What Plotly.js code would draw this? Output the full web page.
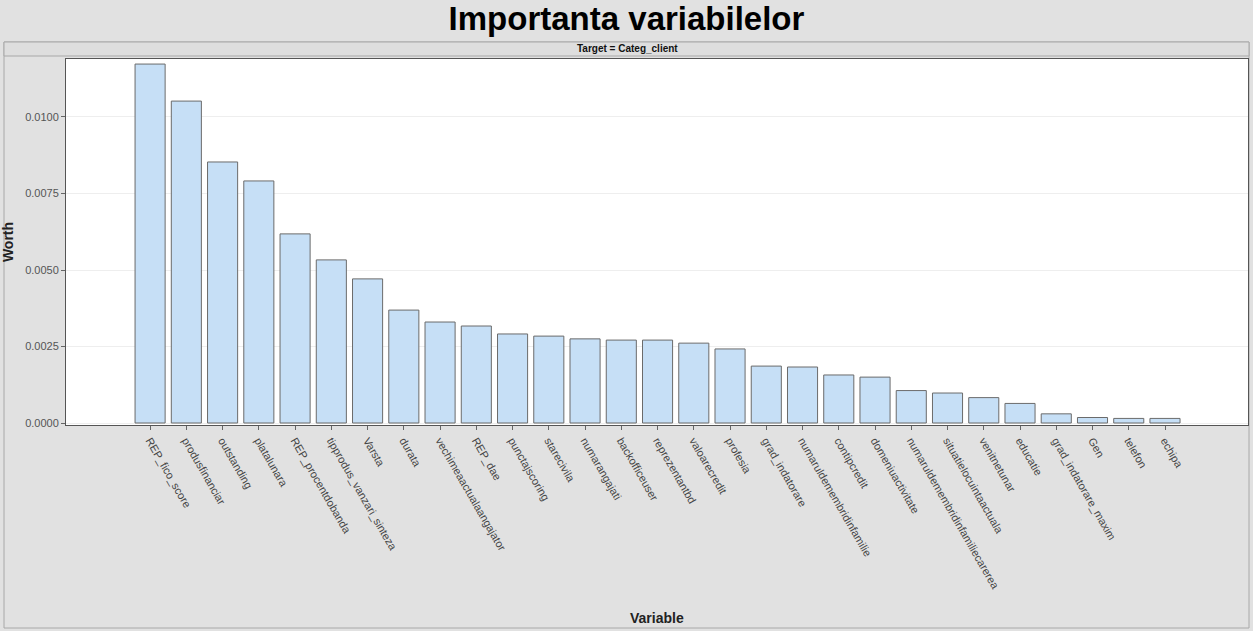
<!DOCTYPE html>
<html><head><meta charset="utf-8">
<script src="https://cdn.plot.ly/plotly-3.0.1.min.js"></script>
<style>html,body{margin:0;padding:0;background:#e1e1e1;}</style>
</head><body>
<div id="chart" style="width:1253px;height:631px;"></div>
<script>
const variables = ["REP_fico_score","produsfinanciar","outstanding","platalunara","REP_procentdobanda","tipprodus_vanzari_sinteza","Varsta","durata","vechimeaactualaangajator","REP_dae","punctajscoring","starecivila","numarangajati","backofficeuser","reprezentantbd","valoarecredit","profesia","grad_indatorare","numaruldemembridinfamilie","contipcredit","domeniuactivitate","numaruldemembridinfamiliecarerea","situatielocuintaactuala","venitnetunar","educatie","grad_indatorare_maxim","Gen","telefon","echipa"];
const worth = [0.01173,0.01052,0.00853,0.00791,0.00618,0.00533,0.00471,0.00369,0.00330,0.00317,0.00291,0.00284,0.00275,0.00271,0.00271,0.00261,0.00242,0.00186,0.00183,0.00157,0.00150,0.00106,0.00098,0.00083,0.00064,0.00030,0.00018,0.00015,0.00015];
const yTicks = [0,0.0025,0.005,0.0075,0.01];

const W=1253,H=631,L=66,R=5,T=59,B=206;
const pw=W-L-R, ph=H-T-B;
const px = x => (x-L)/pw;
const py = y => (H-B-y)/ph;

const trace = {
  type:'bar', x: variables, y: worth,
  marker:{color:'#c6dff6', line:{color:'#6b6b6b', width:1}},
  width:0.83, hoverinfo:'x+y'
};
const layout = {
  width:W, height:H,
  margin:{l:L,r:R,t:T,b:B},
  paper_bgcolor:'#e1e1e1', plot_bgcolor:'#ffffff',
  font:{family:'Liberation Sans, Arial, sans-serif', color:'#444'},
  showlegend:false,
  title:{text:'<b>Importanta variabilelor</b>', x:0.5, xref:'container', xanchor:'center', y:1-18/H, yref:'container', yanchor:'middle', font:{size:33, color:'#000', family:'Liberation Sans, Arial, sans-serif'}},
  xaxis:{
    range:[-2.32,30.29], tickangle:60, tickfont:{size:11,color:'#444'},
    ticks:'outside', ticklen:4, tickcolor:'#666',
    showline:true, linecolor:'#555', linewidth:1, mirror:true, showgrid:false,
    automargin:false
  },
  yaxis:{
    range:[-0.000065,0.011895], tickvals:yTicks, tickformat:'.4f',
    tickfont:{size:11,color:'#555'}, ticks:'outside', ticklen:4, tickcolor:'#666',
    showline:true, linecolor:'#555', linewidth:1, mirror:true,
    showgrid:true, gridcolor:'#eeeeee', zeroline:false,
    title:{text:'<b>Worth</b>', font:{size:14,color:'#222'}, standoff:14},
    automargin:false
  },
  shapes:[
    {type:'rect', xref:'paper', yref:'paper', x0:px(4), x1:px(1249), y0:py(628), y1:py(42), line:{color:'#a8a8a8',width:1}, fillcolor:'rgba(0,0,0,0)', layer:'below'},
    {type:'rect', xref:'paper', yref:'paper', x0:px(4), x1:px(1249), y0:py(56), y1:py(42), line:{color:'#a8a8a8',width:1}, fillcolor:'#dedede', layer:'below'}
  ],
  annotations:[
    {text:'<b>Target = Categ_client</b>', xref:'paper', yref:'paper', x:px(627), y:py(49), showarrow:false, font:{size:10,color:'#111'}, xanchor:'center', yanchor:'middle'},
    {text:'<b>Variable</b>', xref:'paper', yref:'paper', x:px(657), y:py(618), showarrow:false, font:{size:14,color:'#222'}, xanchor:'center', yanchor:'middle'}
  ]
};
Plotly.newPlot('chart',[trace],layout,{displayModeBar:false,staticPlot:true});
</script>
</body></html>
